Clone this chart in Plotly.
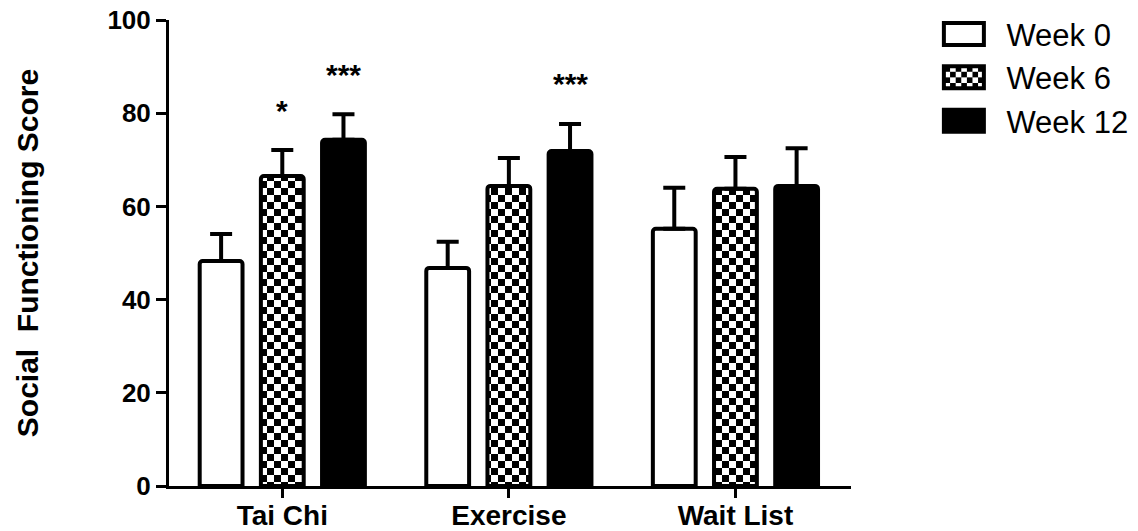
import plotly.graph_objects as go

categories = ["Tai Chi", "Exercise", "Wait List"]
series_names = ["Week 0", "Week 6", "Week 12"]
week0 = [48.3, 46.8, 55.2]
week6 = [66.5, 64.4, 63.8]
week12 = [74.3, 71.9, 64.4]
err0 = [5.8, 5.6, 8.8]
err6 = [5.6, 6.0, 6.8]
err12 = [5.5, 5.8, 8.1]
y_ticks = [0, 20, 40, 60, 80, 100]
# significance markers
sig_cat = [0, 0, 1]          # category index
sig_series = [1, 2, 2]       # series index
sig_text = ["*", "***", "***"]

FONT = "Liberation Sans, Arial, sans-serif"
BARGAP = 0.19
BARGROUPGAP = 0.3

values = [week0, week6, week12]
errors = [err0, err6, err12]
styles = [
    dict(color="white", line=dict(color="black", width=4)),
    dict(color="white", line=dict(color="black", width=4),
         pattern=dict(shape="+", fgcolor="black", bgcolor="white", size=14, solidity=0.5)),
    dict(color="black", line=dict(color="black", width=4)),
]

fig = go.Figure()
for name, vals, errs, st in zip(series_names, values, errors, styles):
    fig.add_trace(go.Bar(
        x=categories, y=vals, name=name, marker=st,
        error_y=dict(type="data", array=errs, arrayminus=[0] * len(errs), symmetric=False,
                     color="black", thickness=4, width=11),
    ))

slot = (1 - BARGAP) / len(series_names)
annotations = []
for c, s, t in zip(sig_cat, sig_series, sig_text):
    top = values[s][c] + errors[s][c]
    annotations.append(dict(
        x=c + (s - 1) * slot, y=top, xref="x", yref="y", text=t, showarrow=False,
        yanchor="middle", yshift=40,
        font=dict(family=FONT, size=30, color="black", weight="bold"),
    ))

fig.update_layout(
    width=1138, height=531,
    margin=dict(l=169, r=287, t=20, b=45, autoexpand=False),
    plot_bgcolor="white", paper_bgcolor="white",
    barmode="group", bargap=BARGAP, bargroupgap=BARGROUPGAP,
    barcornerradius=3,
    showlegend=True,
    legend=dict(x=1.112, y=1.027, xanchor="left", yanchor="top",
                font=dict(family=FONT, size=31, color="black"),
                itemwidth=69, bgcolor="rgba(0,0,0,0)"),
    annotations=annotations,
)
fig.update_xaxes(
    range=[-0.5, 2.51], showline=True, linecolor="black", linewidth=3,
    ticks="outside", ticklen=9, tickwidth=3, tickcolor="black", automargin=False,
    tickfont=dict(family=FONT, size=28, color="black", weight="bold"),
    showgrid=False, zeroline=False,
)
try:
    fig.update_xaxes(ticklabelstandoff=-7)
except Exception:
    pass
fig.update_yaxes(
    range=[0, 100], tickvals=y_ticks, showline=True, linecolor="black", linewidth=3,
    ticks="outside", ticklen=10, tickwidth=3, tickcolor="black", automargin=False,
    tickfont=dict(family=FONT, size=26, color="black", weight="bold"),
    showgrid=False, zeroline=False,
    title=dict(text="Social\u00a0\u00a0Functioning Score", standoff=60,
               font=dict(family=FONT, size=30, color="black", weight="bold")),
)

post = """
document.body.style.margin = '0';
var gd = document.getElementById('{plot_id}');
function fixIt(){
  var ns = 'http://www.w3.org/2000/svg';
  var c = 7;
  document.querySelectorAll('pattern').forEach(function(pt){
    pt.setAttribute('width', 2*c); pt.setAttribute('height', 2*c);
    while(pt.firstChild) pt.removeChild(pt.firstChild);
    function r(x,y,w,h,f){var e=document.createElementNS(ns,'rect');
      e.setAttribute('x',x);e.setAttribute('y',y);e.setAttribute('width',w);e.setAttribute('height',h);
      e.setAttribute('fill',f);pt.appendChild(e);}
    r(0,0,2*c,2*c,'white'); r(0,0,c,c,'black'); r(c,c,c,c,'black');
  });
  gd.querySelectorAll('.legend .legendpoints path').forEach(function(p){
    p.setAttribute('d','M17,11H-23V-11H17Z');
  });
}
fixIt();
gd.on('plotly_afterplot', fixIt);
"""
fig.write_html("out.html", post_script=post, config={"displayModeBar": False})
